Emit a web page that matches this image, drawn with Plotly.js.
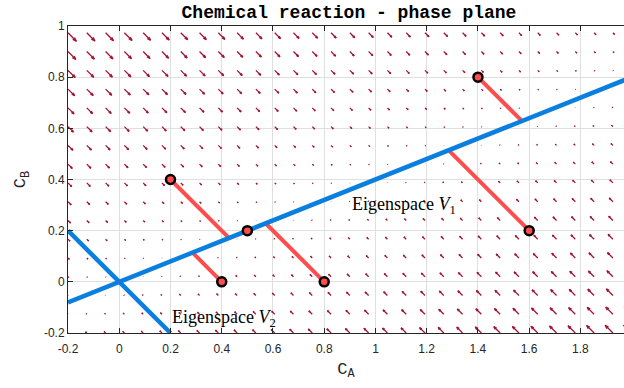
<!DOCTYPE html>
<html>
<head>
<meta charset="utf-8">
<script src="https://cdn.plot.ly/plotly-3.0.1.min.js"></script>
<style>html,body{margin:0;padding:0;background:#fff;}#chart{width:624px;height:388px;}</style>
</head>
<body>
<div id="chart"></div>
<script>
// Quiver grid (C_A, C_B) values
const gridA = [-0.2, -0.1267, -0.0533, 0.02, 0.0933, 0.1667, 0.24, 0.3133, 0.3867, 0.46, 0.5333, 0.6067, 0.68, 0.7533, 0.8267, 0.9, 0.9733, 1.0467, 1.12, 1.1933, 1.2667, 1.34, 1.4133, 1.4867, 1.56, 1.6333, 1.7067, 1.78, 1.8533, 1.9267, 2.0];
const gridB = [-0.2, -0.1267, -0.0533, 0.02, 0.0933, 0.1667, 0.24, 0.3133, 0.3867, 0.46, 0.5333, 0.6067, 0.68, 0.7533, 0.8267, 0.9, 0.9733];
// Rate constants of A <-> B (forward, backward)
const rateK = [0.4, 1.0];
const arrowScale = [0.031];

// Eigenspaces
const v1A = [-0.2, 2.0];
const v1B = [-0.08, 0.8];
const v2A = [-0.2, 0.2];
const v2B = [0.2, -0.2];

// Trajectories: start points and end points on V1
const startA = [0.2, 0.4, 0.5, 0.8, 1.4, 1.6];
const startB = [0.4, 0.0, 0.2, 0.0, 0.8, 0.2];
const endA = [0.429, 0.286, 0.5, 0.571, 1.571, 1.286];
const endB = [0.171, 0.114, 0.2, 0.229, 0.629, 0.514];

// Tick labels
const xTickVals = [-0.2, 0, 0.2, 0.4, 0.6, 0.8, 1, 1.2, 1.4, 1.6, 1.8];
const xTickText = ["-0.2", "0", "0.2", "0.4", "0.6", "0.8", "1", "1.2", "1.4", "1.6", "1.8"];
const yTickVals = [-0.2, 0, 0.2, 0.4, 0.6, 0.8, 1];
const yTickText = ["-0.2", "0", "0.2", "0.4", "0.6", "0.8", "1"];

// Build quiver segments
const qx = [], qy = [];
const alpha = 0.33, beta = 0.33;
for (const b of gridB) {
  for (const a of gridA) {
    const dA = -rateK[0] * a + rateK[1] * b;
    const dB = rateK[0] * a - rateK[1] * b;
    const u = dA * arrowScale[0], v = dB * arrowScale[0];
    const tx = a + u, ty = b + v;
    qx.push(a, tx, null);
    qy.push(b, ty, null);
    qx.push(tx - alpha * (u + beta * v), tx, tx - alpha * (u - beta * v), null);
    qy.push(ty - alpha * (v - beta * u), ty, ty - alpha * (v + beta * u), null);
  }
}

const traces = [];
traces.push({x: qx, y: qy, mode: 'lines', type: 'scatter', line: {color: '#A2142F', width: 1.3}, hoverinfo: 'skip', showlegend: false});
for (let i = 0; i < startA.length; i++) {
  traces.push({x: [startA[i], endA[i]], y: [startB[i], endB[i]], mode: 'lines', type: 'scatter',
    line: {color: '#FF4D4D', width: 4}, showlegend: false});
}
traces.push({x: v1A, y: v1B, mode: 'lines', type: 'scatter', line: {color: '#0A7FE0', width: 4.5}, showlegend: false});
traces.push({x: v2A, y: v2B, mode: 'lines', type: 'scatter', line: {color: '#0A7FE0', width: 4.5}, showlegend: false});
traces.push({x: startA, y: startB, mode: 'markers', type: 'scatter',
  marker: {color: '#FF4D4D', size: 9, line: {color: '#000', width: 2.5}}, showlegend: false});

const axFont = {family: 'Liberation Sans, Arial, sans-serif', size: 12, color: '#262626'};
const layout = {
  width: 624, height: 388,
  margin: {l: 68, r: 0, t: 26, b: 55, pad: 0},
  paper_bgcolor: '#fff', plot_bgcolor: '#fff',
  showlegend: false,
  title: {text: 'Chemical reaction - phase plane', font: {family: 'Liberation Mono, Courier New, monospace', size: 18, weight: 'bold', color: '#000'},
    xref: 'container', x: 349/624, xanchor: 'center', yref: 'container', y: 1 - 12/388, yanchor: 'middle'},
  xaxis: {range: [-0.2, 1.970], tickvals: xTickVals, ticktext: xTickText, tickfont: axFont,
    showgrid: true, gridcolor: '#DFDFDF', gridwidth: 1, zeroline: false,
    showline: true, linecolor: '#262626', linewidth: 1, mirror: 'ticks',
    ticks: 'inside', ticklen: 5, tickcolor: '#262626', automargin: false, ticklabelstandoff: 5,
    title: {text: 'C<sub>A</sub>', font: {family: 'Liberation Mono, Courier New, monospace', size: 17, color: '#262626'}, standoff: 6}},
  yaxis: {range: [-0.2, 1], tickvals: yTickVals, ticktext: yTickText, tickfont: axFont,
    showgrid: true, gridcolor: '#DFDFDF', gridwidth: 1, zeroline: false,
    showline: true, linecolor: '#262626', linewidth: 1, mirror: false,
    ticks: 'inside', ticklen: 5, tickcolor: '#262626', automargin: false,
    title: {text: 'C<sub>B</sub>', font: {family: 'Liberation Mono, Courier New, monospace', size: 17, color: '#262626'}, standoff: 13}},
  annotations: [
    {x: 0.9, y: 0.3, xref: 'x', yref: 'y', text: 'Eigenspace <i>V</i><sub>1</sub>', showarrow: false, xanchor: 'left', yanchor: 'middle',
      font: {family: 'Liberation Serif, Times New Roman, serif', size: 18, color: '#000'}},
    {x: 0.2, y: -0.145, xref: 'x', yref: 'y', text: 'Eigenspace <i>V</i><sub>2</sub>', showarrow: false, xanchor: 'left', yanchor: 'middle',
      font: {family: 'Liberation Serif, Times New Roman, serif', size: 18, color: '#000'}}
  ]
};
Plotly.newPlot('chart', traces, layout, {displayModeBar: false, staticPlot: true});
</script>
</body>
</html>
